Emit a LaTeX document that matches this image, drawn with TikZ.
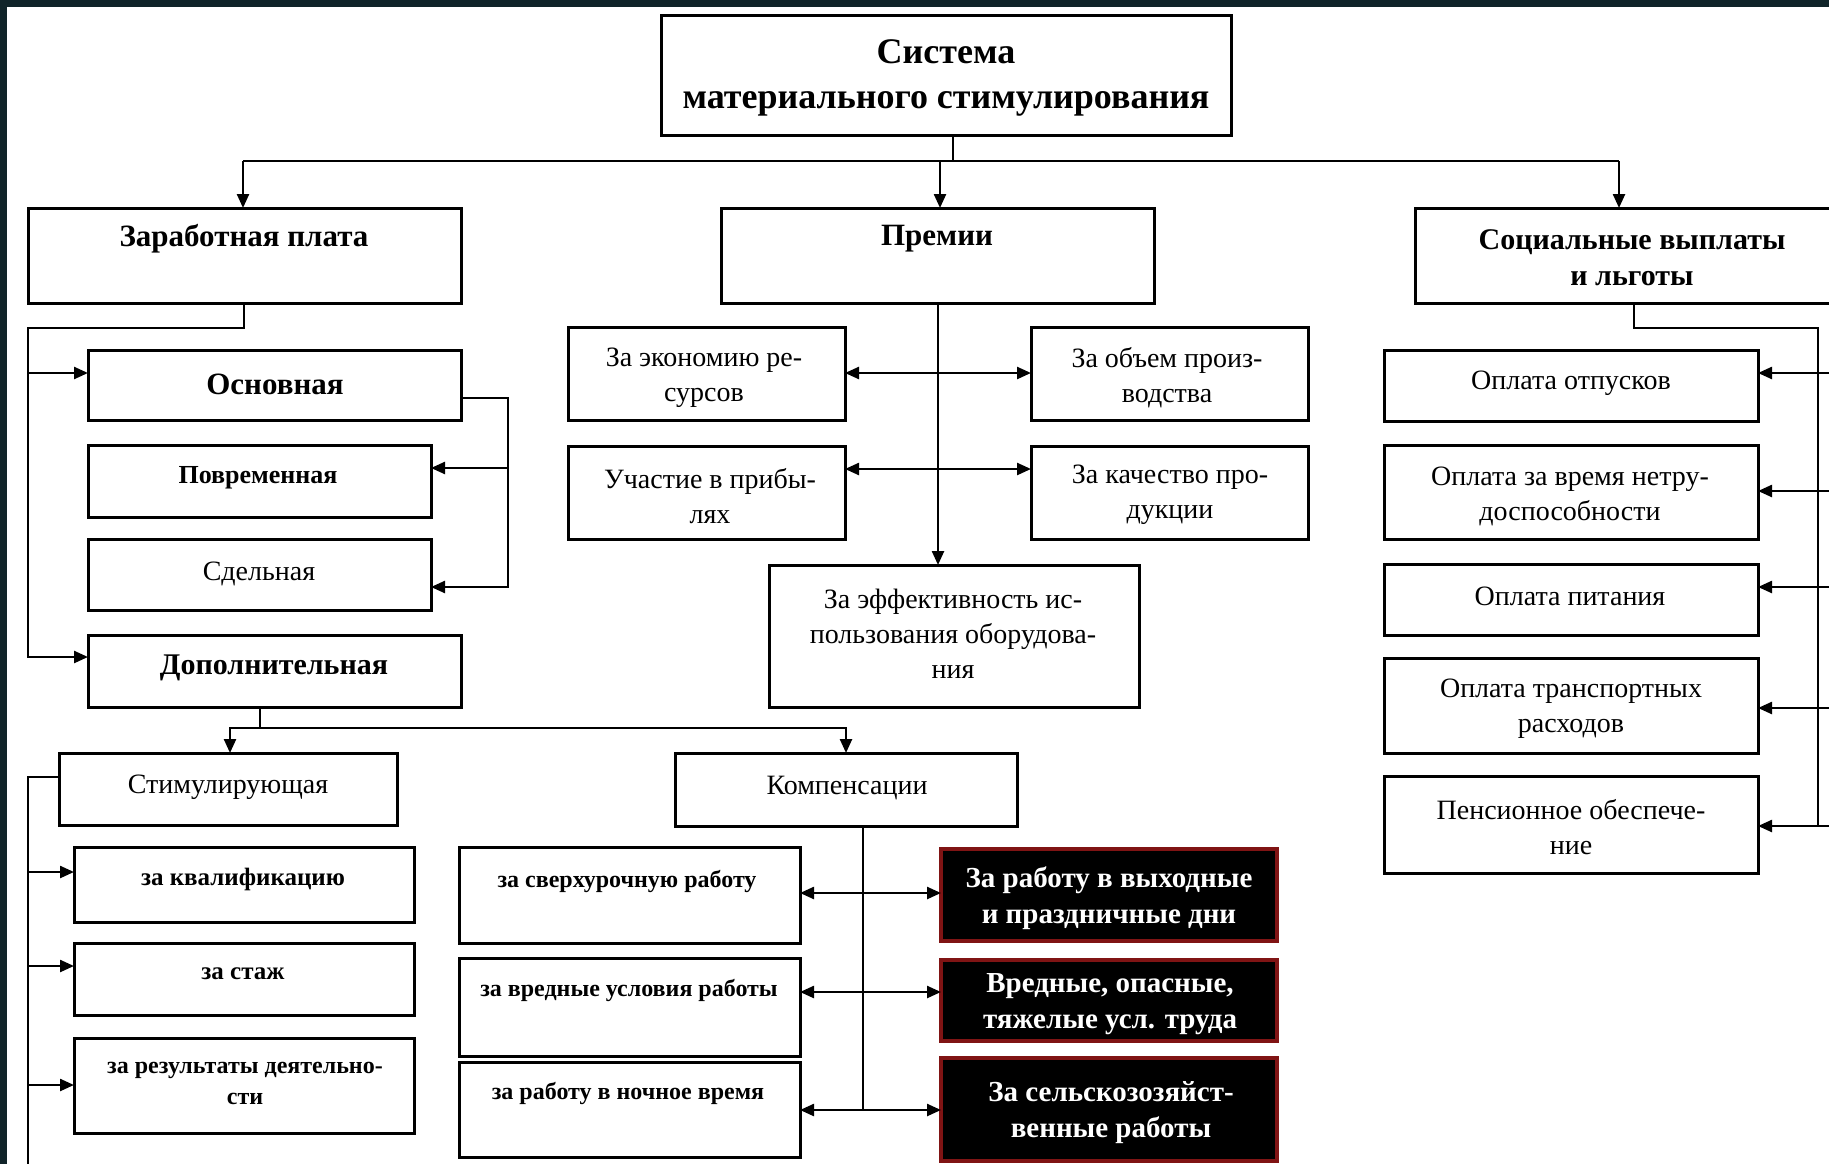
\documentclass[tikz,border=0pt]{standalone}
\usepackage{fontspec}
\setmainfont{Liberation Serif}
\usetikzlibrary{arrows.meta,calc}
\definecolor{frame}{RGB}{16,36,41}
\definecolor{dred}{RGB}{128,20,20}
\newcommand\mkbox[6][]{\node[bx,#1,minimum width={(#5-#3)*1pt},minimum height={(#6-#4)*1pt}] (#2) at (#3,#4) {};}
\begin{document}
\begin{tikzpicture}[x=1pt,y=-1pt,
  bx/.style={draw=black,line width=3pt,inner sep=0pt,outer sep=0pt,anchor=north west},
  blk/.style={bx,fill=black,draw=dred,line width=4pt},
  ln/.style={line width=2.4pt},
  arr/.style={ln,-{Triangle[length=14pt,width=12pt]}},
  dbl/.style={ln,{Triangle[length=14pt,width=12pt]}-{Triangle[length=14pt,width=12pt]}},
  tx/.style={align=center,inner sep=0pt},
  hd/.style={tx,font=\fontsize{30}{36}\selectfont\bfseries},
  rg/.style={tx,font=\fontsize{28}{35}\selectfont},
  sm/.style={tx,font=\fontsize{24}{31}\selectfont\bfseries},
  wt/.style={tx,text=white,font=\fontsize{29}{36}\selectfont\bfseries}]
\useasboundingbox (0,0) rectangle (1829,1164);
\clip (0,0) rectangle (1829,1164);
\fill[white] (0,0) rectangle (1829,1164);
\fill[frame] (0,0) rectangle (1829,7);
\fill[frame] (0,0) rectangle (7,1164);

% boxes
\mkbox{top}{661}{16}{1231}{135}
\mkbox{zp}{28}{208}{461}{303}
\mkbox{prem}{721}{208}{1154}{303}
\mkbox{soc}{1415}{208}{1845}{303}
\mkbox{osn}{88}{350}{461}{420}
\mkbox{povr}{88}{445}{431}{517}
\mkbox{sdel}{88}{539}{431}{610}
\mkbox{dop}{88}{635}{461}{707}
\mkbox{stim}{59}{753}{397}{825}
\mkbox{komp}{675}{753}{1017}{826}
\mkbox{kv}{74}{847}{414}{922}
\mkbox{stazh}{74}{943}{414}{1015}
\mkbox{rez}{74}{1038}{414}{1133}
\mkbox{sv}{459}{847}{800}{943}
\mkbox{vr}{459}{958}{800}{1056}
\mkbox{noch}{459}{1062}{800}{1157}
\mkbox[blk]{bA}{941}{849}{1277}{941}
\mkbox[blk]{bB}{941}{960}{1277}{1041}
\mkbox[blk]{bC}{941}{1058}{1277}{1161}
\mkbox{ek}{568}{327}{845}{420}
\mkbox{ob}{1031}{327}{1308}{420}
\mkbox{uch}{568}{446}{845}{539}
\mkbox{kach}{1031}{446}{1308}{539}
\mkbox{eff}{769}{565}{1139}{707}
\mkbox{otp}{1384}{350}{1758}{421}
\mkbox{net}{1384}{445}{1758}{539}
\mkbox{pit}{1384}{564}{1758}{635}
\mkbox{tr}{1384}{658}{1758}{753}
\mkbox{pen}{1384}{776}{1758}{873}

% texts
\node[tx,font=\fontsize{36}{45}\selectfont\bfseries] (topt) at (946,78) {Система\\материального стимулирования};
\node[hd,font=\fontsize{31}{36}\selectfont\bfseries] (zpt) at (244,239) {Заработная плата};
\node[hd,font=\fontsize{31}{36}\selectfont\bfseries] (premt) at (937,239) {Премии};
\node[hd] (soct) at (1632,258) {Социальные выплаты\\и льготы};
\node[hd,font=\fontsize{31}{36}\selectfont\bfseries] (osnt) at (275,384) {Основная};
\node[hd,font=\fontsize{26}{32}\selectfont\bfseries] (povrt) at (258,478) {Повременная};
\node[rg] (sdelt) at (259,574) {Сдельная};
\node[hd] (dopt) at (274,668) {Дополнительная};
\node[rg] (stimt) at (228,787) {Стимулирующая};
\node[rg] (kompt) at (847,788) {Компенсации};
\node[sm,font=\fontsize{25}{31}\selectfont\bfseries] (kvt) at (243,879) {за квалификацию};
\node[sm,font=\fontsize{25}{31}\selectfont\bfseries] (stazht) at (243,974) {за стаж};
\node[sm] (rezt) at (245,1083) {за результаты деятельно-\\сти};
\node[sm] (svt) at (627,881) {за сверхурочную работу};
\node[sm] (vrt) at (629,990) {за вредные условия работы};
\node[sm] (nocht) at (628,1093) {за работу в ночное время};
\node[wt] (bAt) at (1109,898) {За работу в выходные\\и праздничные дни};
\node[wt] (bBt) at (1110,1004) {Вредные, опасные,\\тяжелые усл. труда};
\node[wt] (bCt) at (1111,1113) {За сельскозозяйст-\\венные работы};
\node[rg] (ekt) at (704,378) {За экономию ре-\\сурсов};
\node[rg] (obt) at (1167,378) {За объем произ-\\водства};
\node[rg] (ucht) at (710,496) {Участие в прибы-\\лях};
\node[rg] (kacht) at (1170,495) {За качество про-\\дукции};
\node[rg] (efft) at (953,634) {За эффективность ис-\\пользования оборудова-\\ния};
\node[rg] (otpt) at (1571,383) {Оплата отпусков};
\node[rg] (nett) at (1570,496) {Оплата за время нетру-\\доспособности};
\node[rg] (pitt) at (1570,596) {Оплата питания};
\node[rg] (trt) at (1571,709) {Оплата транспортных\\расходов};
\node[rg] (pent) at (1571,827) {Пенсионное обеспече-\\ние};

% top level connectors
\coordinate (h0) at (953,161);
\coordinate (hl) at (243,161);
\coordinate (hm) at (940,161);
\coordinate (hr) at (1619,161);
\draw[ln] (h0 |- top.south) -- (h0);
\draw[ln] (hl) -- (hr);
\draw[arr] (hl) -- (hl |- zp.north);
\draw[arr] (hm) -- (hm |- prem.north);
\draw[arr] (hr) -- (hr |- soc.north);

% Заработная плата
\coordinate (z0) at (244,328);
\coordinate (z1) at (28,328);
\coordinate (z2) at (28,657);
\coordinate (z3) at (28,373);
\draw[arr] (z0 |- zp.south) -- (z0) -- (z1) -- (z2) -- (z2 -| dop.west);
\draw[arr] (z3) -- (z3 -| osn.west);

% Основная
\coordinate (o1) at (508,398);
\coordinate (o2) at (508,468);
\coordinate (o3) at (508,587);
\draw[arr] (o1 -| osn.east) -- (o1) -- (o3) -- (o3 -| sdel.east);
\draw[arr] (o2) -- (o2 -| povr.east);

% Дополнительная
\coordinate (d0) at (260,728);
\coordinate (dl) at (230,728);
\coordinate (dr) at (846,728);
\draw[ln] (d0 |- dop.south) -- (d0);
\draw[arr] (d0) -- (dl) -- (dl |- stim.north);
\draw[arr] (d0) -- (dr) -- (dr |- komp.north);

% Стимулирующая
\coordinate (s0) at (28,777);
\coordinate (s1) at (28,872);
\coordinate (s2) at (28,966);
\coordinate (s3) at (28,1085);
\coordinate (s4) at (28,1170);
\draw[ln] (s0 -| stim.west) -- (s0) -- (s4);
\draw[arr] (s1) -- (s1 -| kv.west);
\draw[arr] (s2) -- (s2 -| stazh.west);
\draw[arr] (s3) -- (s3 -| rez.west);

% Премии
\coordinate (p0) at (938,373);
\coordinate (p1) at (938,469);
\draw[arr] (p0 |- prem.south) -- (p0 |- eff.north);
\draw[dbl] (p0 -| ek.east) -- (p0 -| ob.west);
\draw[dbl] (p1 -| uch.east) -- (p1 -| kach.west);

% Компенсации
\coordinate (k1) at (863,893);
\coordinate (k2) at (863,992);
\coordinate (k3) at (863,1110);
\draw[ln] (k1 |- komp.south) -- (k3);
\draw[dbl] (k1 -| sv.east) -- (k1 -| bA.west);
\draw[dbl] (k2 -| vr.east) -- (k2 -| bB.west);
\draw[dbl] (k3 -| noch.east) -- (k3 -| bC.west);

% Социальные
\coordinate (c0) at (1634,328);
\coordinate (c1) at (1818,328);
\coordinate (c2) at (1818,826);
\coordinate (e1) at (1829,373);
\coordinate (e2) at (1829,491);
\coordinate (e3) at (1829,587);
\coordinate (e4) at (1829,708);
\coordinate (e5) at (1829,826);
\draw[ln] (c0 |- soc.south) -- (c0) -- (c1) -- (c2);
\draw[arr] (e1) -- (e1 -| otp.east);
\draw[arr] (e2) -- (e2 -| net.east);
\draw[arr] (e3) -- (e3 -| pit.east);
\draw[arr] (e4) -- (e4 -| tr.east);
\draw[arr] (e5) -- (e5 -| pen.east);
\end{tikzpicture}
\end{document}
